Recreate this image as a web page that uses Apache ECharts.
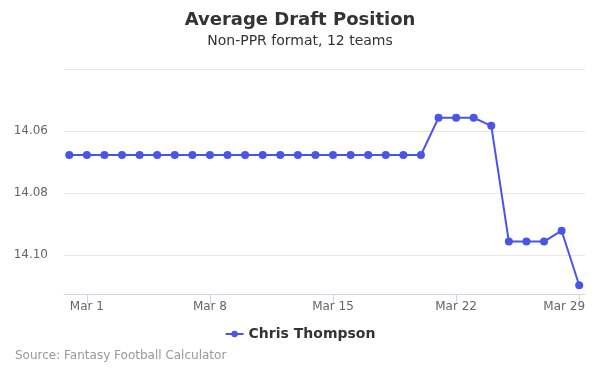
<!DOCTYPE html>
<html>
<head>
<meta charset="utf-8">
<script src="https://cdn.jsdelivr.net/npm/echarts@6/dist/echarts.min.js"></script>
<style>html,body{margin:0;padding:0;background:#fff}#c{width:600px;height:375px}</style>
</head>
<body>
<div id="c"></div>
<script>
const dates = ['Feb 28','Mar 1','Mar 2','Mar 3','Mar 4','Mar 5','Mar 6','Mar 7','Mar 8','Mar 9','Mar 10','Mar 11','Mar 12','Mar 13','Mar 14','Mar 15','Mar 16','Mar 17','Mar 18','Mar 19','Mar 20','Mar 21','Mar 22','Mar 23','Mar 24','Mar 25','Mar 26','Mar 27','Mar 28','Mar 29'];
const adp = [14.0677,14.0677,14.0677,14.0677,14.0677,14.0677,14.0677,14.0677,14.0677,14.0677,14.0677,14.0677,14.0677,14.0677,14.0677,14.0677,14.0677,14.0677,14.0677,14.0677,14.0677,14.0557,14.0557,14.0557,14.0583,14.0956,14.0956,14.0956,14.0921,14.1097];
const xTickLabels = ['Mar 1','Mar 8','Mar 15','Mar 22','Mar 29'];
const yLabelTicks = ['14.06','14.08','14.10'];
const seriesName = 'Chris Thompson';

const FONT = 'DejaVu Sans';
const xTickIdx = xTickLabels.map(l => dates.indexOf(l));
const lastIdx = xTickIdx[xTickIdx.length - 1];
const chart = echarts.init(document.getElementById('c'));
chart.setOption({
  animation: false,
  textStyle: {fontFamily: FONT},
  title: {
    text: 'Average Draft Position',
    subtext: 'Non-PPR format, 12 teams',
    left: 'center', top: 6, itemGap: 5,
    textStyle: {fontSize: 18, fontWeight: 'bold', color: '#333', fontFamily: FONT},
    subtextStyle: {fontSize: 14, color: '#333', fontFamily: FONT}
  },
  legend: {
    bottom: 29, left: 'center',
    itemWidth: 18, itemHeight: 8,
    textStyle: {fontSize: 14, fontWeight: 'bold', color: '#333', fontFamily: FONT},
    data: [seriesName]
  },
  graphic: [{
    type: 'text', left: 15, top: 350,
    style: {text: 'Source: Fantasy Football Calculator', fill: '#999', fontSize: 12, fontFamily: FONT}
  }],
  grid: {left: 64, right: 15, top: 69, bottom: 81, outerBoundsMode: 'none', containLabel: false},
  xAxis: {
    type: 'value',
    min: -0.3, max: 29.33,
    axisLine: {show: true, lineStyle: {color: '#ccd6eb'}},
    axisTick: {show: true, length: 10, lineStyle: {color: '#ccd6eb'}, customValues: xTickIdx},
    axisLabel: {color: '#666', fontSize: 12, margin: 7, customValues: xTickIdx,
      formatter: v => { const i = Math.round(v); return i === lastIdx ? '{r|' + dates[i] + '}' : dates[i]; },
      rich: {r: {color: '#666', fontSize: 12, fontFamily: FONT, padding: [0, 30, 0, 0]}}},
    splitLine: {show: false}
  },
  yAxis: {
    type: 'value', inverse: true,
    min: 14.04, max: 14.1125, interval: 0.02,
    axisLine: {show: false}, axisTick: {show: false},
    axisLabel: {color: '#666', fontSize: 12, margin: 16, showMaxLabel: false,
      formatter: v => { const s = v.toFixed(2); return yLabelTicks.indexOf(s) >= 0 ? s : ''; }},
    splitLine: {show: true, lineStyle: {color: '#e6e6e6'}}
  },
  series: [{
    name: seriesName,
    type: 'line',
    data: adp.map((v, i) => [i, v]),
    color: '#4a55e8',
    lineStyle: {width: 2},
    symbol: 'circle', symbolSize: 8,
    itemStyle: {color: '#4a55e8'}
  }]
});
</script>
</body>
</html>
